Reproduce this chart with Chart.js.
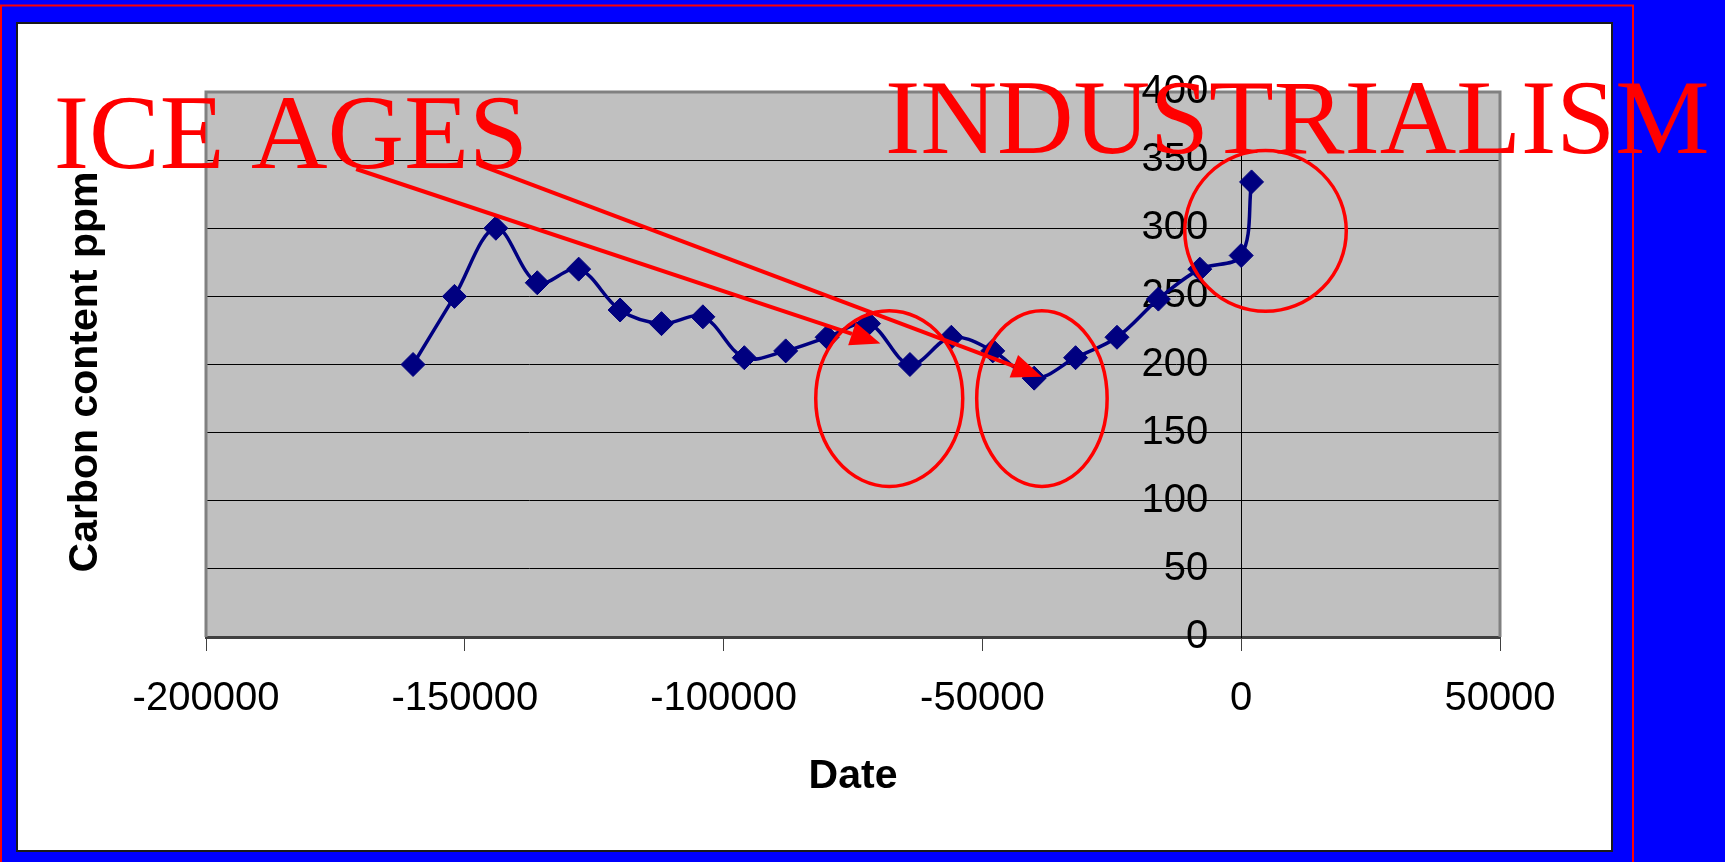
<!DOCTYPE html>
<html>
<head>
<meta charset="utf-8">
<title>Carbon content ppm</title>
<script src="https://cdn.jsdelivr.net/npm/chart.js@4.4.1/dist/chart.umd.min.js"></script>
<style>
  html, body { margin: 0; padding: 0; background: #0000ff; overflow: hidden; }
  #wrap { width: 1725px; height: 862px; position: relative; }
</style>
</head>
<body>
<div id="wrap"><canvas id="co2Chart"></canvas></div>
<script>
// years before present / carbon content in ppm
const dates = [-160000, -152000, -144000, -136000, -128000, -120000, -112000, -104000,
    -96000, -88000, -80000, -72000, -64000, -56000, -48000, -40000, -32000, -24000,
    -16000, -8000, 0, 2000];
const carbonPpm = [200, 250, 300, 260, 270, 240, 230, 235, 205, 210, 220, 230, 200,
    220, 210, 190, 205, 220, 248, 270, 280, 334];

const xTicks = [-200000, -150000, -100000, -50000, 0, 50000];
const yTicks = [0, 50, 100, 150, 200, 250, 300, 350, 400];

// red notes drawn on top, in data units
const noteTexts = [
    { text: "ICE AGES", x: -229400, y: 344.5 },
    { text: "INDUSTRIALISM", x: -68800, y: 355 }
];
const noteCircles = [
    { x: -68000, y: 175, rx: 14200, ry: 64.5 },
    { x: -38500, y: 175, rx: 12600, ry: 64.5 },
    { x: 4700, y: 298, rx: 15600, ry: 59 }
];
const noteArrows = [
    { from: [-171000, 343.5], to: [-69700, 215.5] },
    { from: [-147200, 346.5], to: [-38500, 191] }
];

var points = [];
for (var i = 0; i < dates.length; i++) {
    points.push({ x: dates[i], y: carbonPpm[i] });
}

const sansFamily = "'Liberation Sans', Arial, sans-serif";

// slide frame, white chart box, grey plot area
const backdrop = {
    id: "backdrop",
    beforeDraw(chart) {
        const ctx = chart.ctx;
        const a = chart.chartArea;
        ctx.save();
        ctx.fillStyle = "#0000ff";
        ctx.fillRect(0, 0, chart.width, chart.height);
        ctx.strokeStyle = "#ff0000";
        ctx.lineWidth = 2;
        ctx.strokeRect(1, 5.5, 1632, 900);
        ctx.fillStyle = "#ffffff";
        ctx.fillRect(17, 23, 1595, 828);
        ctx.strokeStyle = "#1a1a1a";
        ctx.lineWidth = 2;
        ctx.strokeRect(17, 23, 1595, 828);
        ctx.fillStyle = "#c0c0c0";
        ctx.fillRect(a.left, a.top, a.right - a.left, a.bottom - a.top);
        ctx.restore();
    },
    beforeDatasetsDraw(chart) {
        const ctx = chart.ctx;
        const a = chart.chartArea;
        const sx = chart.scales.x, sy = chart.scales.y;
        ctx.save();
        ctx.strokeStyle = "#808080";
        ctx.lineWidth = 3;
        ctx.beginPath();
        ctx.moveTo(a.left, a.bottom);
        ctx.lineTo(a.left, a.top);
        ctx.lineTo(a.right, a.top);
        ctx.lineTo(a.right, a.bottom);
        ctx.stroke();

        // y tick labels sit left of the tick marks on the axis at x = 0
        const axisX = sx.getPixelForValue(0);
        const gap = sy.options.grid.tickLength + 20;
        ctx.fillStyle = "#000000";
        ctx.font = "40px " + sansFamily;
        ctx.textAlign = "right";
        ctx.textBaseline = "middle";
        sy.ticks.forEach(t => {
            ctx.fillText(String(t.value), axisX - gap, sy.getPixelForValue(t.value));
        });

        // y axis title out at the left edge
        ctx.translate(86, 372);
        ctx.rotate(-Math.PI / 2);
        ctx.font = "bold 41px " + sansFamily;
        ctx.textAlign = "center";
        ctx.fillText("Carbon content ppm", 0, 0);
        ctx.restore();
    }
};

const notes = {
    id: "notes",
    afterDraw(chart) {
        const ctx = chart.ctx;
        const sx = chart.scales.x, sy = chart.scales.y;
        const px = v => sx.getPixelForValue(v);
        const py = v => sy.getPixelForValue(v);
        ctx.save();
        ctx.strokeStyle = "#ff0000";
        ctx.fillStyle = "#ff0000";

        ctx.lineWidth = 3.5;
        noteCircles.forEach(c => {
            ctx.beginPath();
            ctx.ellipse(px(c.x), py(c.y), Math.abs(px(c.x + c.rx) - px(c.x)),
                Math.abs(py(c.y + c.ry) - py(c.y)), 0, 0, Math.PI * 2);
            ctx.stroke();
        });

        ctx.lineWidth = 4;
        noteArrows.forEach(ar => {
            const x0 = px(ar.from[0]), y0 = py(ar.from[1]);
            const x1 = px(ar.to[0]), y1 = py(ar.to[1]);
            const ang = Math.atan2(y1 - y0, x1 - x0);
            const len = 30, half = 12;
            const bx = x1 - Math.cos(ang) * len, by = y1 - Math.sin(ang) * len;
            ctx.beginPath();
            ctx.moveTo(x0, y0);
            ctx.lineTo(bx, by);
            ctx.stroke();
            ctx.beginPath();
            ctx.moveTo(x1, y1);
            ctx.lineTo(bx + Math.sin(ang) * half, by - Math.cos(ang) * half);
            ctx.lineTo(bx - Math.sin(ang) * half, by + Math.cos(ang) * half);
            ctx.closePath();
            ctx.fill();
        });

        ctx.font = "106px 'Liberation Serif', 'Times New Roman', serif";
        ctx.textAlign = "left";
        ctx.textBaseline = "alphabetic";
        noteTexts.forEach(t => {
            ctx.fillText(t.text, px(t.x), py(t.y));
        });
        ctx.restore();
    }
};

new Chart(document.getElementById("co2Chart"), {
    type: "line",
    data: {
        datasets: [{
            data: points,
            borderColor: "#000080",
            backgroundColor: "#000080",
            borderWidth: 3.5,
            tension: 0.35,
            pointStyle: "rectRot",
            pointRadius: 12,
            pointBorderWidth: 1,
            pointBackgroundColor: "#000080",
            pointBorderColor: "#000080",
            fill: false
        }]
    },
    options: {
        responsive: true,
        maintainAspectRatio: false,
        devicePixelRatio: 1,
        animation: false,
        layout: { padding: { left: 206, right: 225, top: 92, bottom: 0 } },
        plugins: {
            legend: { display: false },
            tooltip: { enabled: false }
        },
        scales: {
            x: {
                type: "linear",
                min: xTicks[0],
                max: xTicks[xTicks.length - 1],
                afterBuildTicks: s => { s.ticks = xTicks.map(v => ({ value: v })); },
                afterFit: s => { s.height = 225; },
                grid: {
                    drawOnChartArea: false,
                    drawTicks: true,
                    tickLength: 14,
                    color: "#404040",
                    lineWidth: 1
                },
                border: { color: "#404040", width: 3 },
                ticks: {
                    font: { family: sansFamily, size: 40 },
                    color: "#000000",
                    padding: 24,
                    maxRotation: 0,
                    callback: v => String(v)
                },
                title: {
                    display: true,
                    text: "Date",
                    color: "#000000",
                    font: { family: sansFamily, size: 41, weight: "bold" },
                    padding: { top: 0, bottom: 61 }
                }
            },
            y: {
                type: "linear",
                position: { x: 0 },
                min: yTicks[0],
                max: yTicks[yTicks.length - 1],
                afterBuildTicks: s => { s.ticks = yTicks.map(v => ({ value: v })); },
                grid: {
                    color: "#000000",
                    lineWidth: 1,
                    drawTicks: true,
                    tickLength: 13
                },
                border: { color: "#000000", width: 1 },
                ticks: { display: false }
            }
        }
    },
    plugins: [backdrop, notes]
});
</script>
</body>
</html>
